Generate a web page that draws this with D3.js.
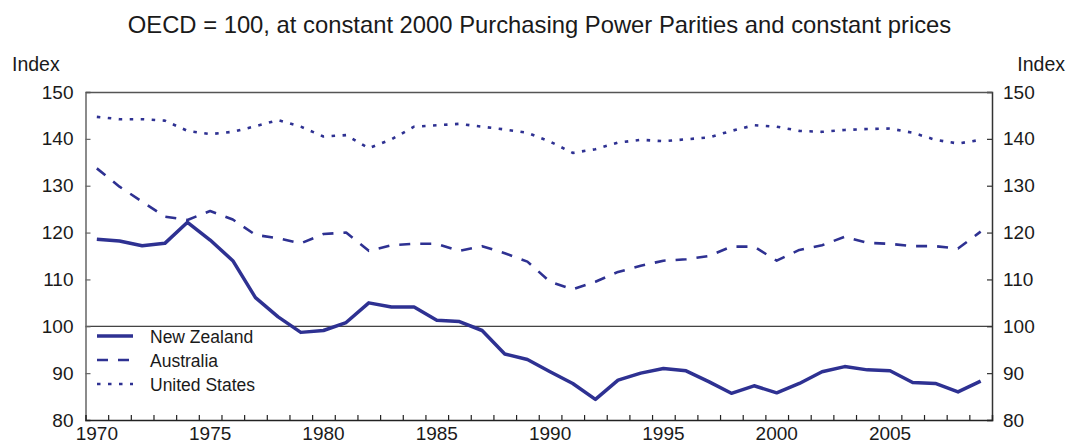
<!DOCTYPE html>
<html>
<head>
<meta charset="utf-8">
<script src="https://cdn.jsdelivr.net/npm/d3@7/dist/d3.min.js"></script>
<style>
  body { margin: 0; background: #fff; }
  text { font-family: Arial, 'Liberation Sans', sans-serif; fill: #1a1a1a; }
</style>
</head>
<body>
<div id="chart"></div>
<script>
// Relative GDP per capita, OECD = 100
const years = d3.range(1970, 2010)
const newZealand = [118.6, 118.2, 117.2, 117.7, 122.2, 118.4, 114.0, 106.1, 102.0, 98.7,
  99.1, 100.8, 105.0, 104.1, 104.1, 101.3, 101.0, 99.1, 94.1, 92.9,
  90.3, 87.8, 84.4, 88.5, 90.0, 91.0, 90.5, 88.2, 85.7, 87.3,
  85.8, 87.8, 90.3, 91.4, 90.7, 90.5, 88.0, 87.8, 86.0, 88.3]
const australia = [133.7, 129.8, 126.6, 123.4, 122.7, 124.6, 122.8, 119.5, 118.8, 117.7,
  119.7, 120.0, 116.1, 117.3, 117.6, 117.6, 116.1, 117.1, 115.6, 113.8,
  109.5, 107.9, 109.5, 111.6, 112.9, 114.0, 114.3, 115.0, 117.0, 117.0,
  114.0, 116.3, 117.3, 119.1, 117.8, 117.6, 117.1, 117.1, 116.6, 120.2]
const unitedStates = [144.7, 144.2, 144.2, 143.9, 141.7, 141.0, 141.5, 142.7, 144.0, 142.6,
  140.5, 140.8, 138.0, 139.9, 142.6, 142.9, 143.2, 142.6, 142.0, 141.3,
  139.4, 137.0, 137.8, 139.2, 139.8, 139.5, 139.9, 140.3, 141.7, 142.9,
  142.6, 141.7, 141.5, 141.9, 142.1, 142.2, 141.3, 139.8, 139.0, 139.8]
const yTicks = [80, 90, 100, 110, 120, 130, 140, 150]
const xLabels = [1970, 1975, 1980, 1985, 1990, 1995, 2000, 2005]
const title = 'OECD = 100, at constant 2000 Purchasing Power Parities and constant prices'

const series = [
  { name: 'New Zealand', values: newZealand, width: 3.5, dash: null },
  { name: 'Australia', values: australia, width: 2.6, dash: '11,10' },
  { name: 'United States', values: unitedStates, width: 2.6, dash: '3.5,7.5' }
]

const W = 1069, H = 445
const margin = { top: 92, right: 77, bottom: 25, left: 85.5 }
const innerW = W - margin.left - margin.right
const innerH = H - margin.top - margin.bottom
const navy = '#2e3192'

const svg = d3.select('#chart').append('svg').attr('width', W).attr('height', H)

svg.append('text').attr('x', W / 2 + 5).attr('y', 33).attr('text-anchor', 'middle')
  .attr('font-size', 23.8).text(title)
svg.append('text').attr('x', 12).attr('y', 71).attr('font-size', 19.5).text('Index')
svg.append('text').attr('x', 1065).attr('y', 71).attr('text-anchor', 'end').attr('font-size', 19.5).text('Index')

const g = svg.append('g').attr('transform', `translate(${margin.left},${margin.top})`)

const x = d3.scaleLinear().domain([1969.5, 2009.5]).range([0, innerW])
const y = d3.scaleLinear().domain([80, 150]).range([innerH, 0])

// reference line at 100
g.append('line').attr('x1', 0).attr('x2', innerW).attr('y1', y(100)).attr('y2', y(100))
  .attr('stroke', '#111').attr('stroke-width', 1)

// axes
const yLeft = g.append('g').call(d3.axisLeft(y).tickValues(yTicks).tickSize(-5).tickPadding(12))
const yRight = g.append('g').attr('transform', `translate(${innerW},0)`)
  .call(d3.axisRight(y).tickValues(yTicks).tickSize(-5).tickPadding(11))
const xAxis = g.append('g').attr('transform', `translate(0,${innerH})`)
  .call(d3.axisBottom(x).tickValues(d3.range(1970.5, 2009, 1)).tickSize(-5).tickFormat(''))
const xTop = g.append('g').call(d3.axisTop(x).tickValues([]).tickSizeOuter(0))

const axes = [[yLeft, '#666'], [yRight, '#333'], [xAxis, '#222'], [xTop, '#555']]
for (const [ax, col] of axes) {
  ax.select('.domain').attr('stroke', col).attr('stroke-width', 1.5)
  ax.selectAll('line').attr('stroke', col).attr('stroke-width', 1.2)
  ax.selectAll('text').attr('font-size', 19).attr('fill', '#1a1a1a').attr('font-family', 'Arial, Liberation Sans, sans-serif')
}

// year labels centred on the data years
g.append('g').selectAll('text').data(xLabels).join('text')
  .attr('x', d => x(d)).attr('y', innerH + 20).attr('text-anchor', 'middle')
  .attr('font-size', 19).text(d => d)

const line = d3.line().x((d, i) => x(years[i])).y(d => y(d))
for (const s of series) {
  g.append('path').datum(s.values)
    .attr('fill', 'none').attr('stroke', navy)
    .attr('stroke-width', s.width)
    .attr('stroke-dasharray', s.dash)
    .attr('stroke-linejoin', 'round')
    .attr('d', line)
}

// legend
const legend = svg.append('g').attr('transform', 'translate(97,336)')
series.forEach((s, i) => {
  const row = legend.append('g').attr('transform', `translate(0,${i * 24})`)
  row.append('line').attr('x1', 0).attr('x2', 36).attr('y1', 0).attr('y2', 0)
    .attr('stroke', navy).attr('stroke-width', s.width).attr('stroke-dasharray', s.dash)
  row.append('text').attr('x', 53).attr('y', 6.5).attr('font-size', 17.5).text(s.name)
})
</script>
</body>
</html>
